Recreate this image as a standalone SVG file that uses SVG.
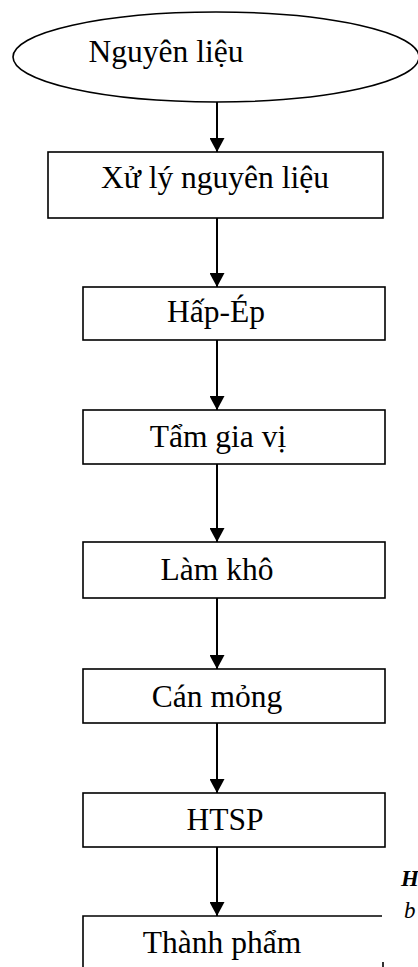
<svg xmlns="http://www.w3.org/2000/svg" width="418" height="967" viewBox="0 0 418 967">
  <defs>
    <marker id="arrow" markerWidth="14" markerHeight="15" refX="14" refY="7.5" orient="auto" markerUnits="userSpaceOnUse" viewBox="0 0 14 15">
      <path d="M0,0 L14,7.5 L0,15 Z" fill="#000"/>
    </marker>
  </defs>
  <style>
    .shape { fill: #fff; stroke: #000; stroke-width: 1.6; }
    .label { font-family: "Liberation Serif", "Times New Roman", serif; font-size: 31.5px; fill: #000; text-anchor: middle; }
    .edge { stroke: #000; stroke-width: 2; fill: none; }
    .cap { font-family: "Liberation Serif", "Times New Roman", serif; font-size: 23px; font-style: italic; fill: #000; }
  </style>
  <rect width="418" height="967" fill="#fff"/>

  <g id="connectors">
    <line class="edge" x1="217" y1="102" x2="217" y2="152" marker-end="url(#arrow)"/>
    <line class="edge" x1="217" y1="218" x2="217" y2="287" marker-end="url(#arrow)"/>
    <line class="edge" x1="217" y1="340" x2="217" y2="410" marker-end="url(#arrow)"/>
    <line class="edge" x1="217" y1="464" x2="217" y2="542" marker-end="url(#arrow)"/>
    <line class="edge" x1="217" y1="598" x2="217" y2="669" marker-end="url(#arrow)"/>
    <line class="edge" x1="217" y1="723" x2="217" y2="793" marker-end="url(#arrow)"/>
    <line class="edge" x1="217" y1="847" x2="217" y2="916" marker-end="url(#arrow)"/>
  </g>

  <g id="n-nguyen-lieu">
    <ellipse class="shape" cx="216" cy="57" rx="203" ry="45"/>
    <text class="label" x="166" y="62">Nguyên liệu</text>
  </g>

  <g id="n-xu-ly">
    <rect class="shape" x="48" y="152" width="335" height="66"/>
    <text class="label" x="215" y="188">Xử lý nguyên liệu</text>
  </g>

  <g id="n-hap-ep">
    <rect class="shape" x="83" y="287" width="302" height="53"/>
    <text class="label" x="216" y="322">Hấp-Ép</text>
  </g>

  <g id="n-tam-gia-vi">
    <rect class="shape" x="83" y="410" width="302" height="54"/>
    <text class="label" x="218" y="447">Tẩm gia vị</text>
  </g>

  <g id="n-lam-kho">
    <rect class="shape" x="83" y="542" width="302" height="56"/>
    <text class="label" x="217" y="580">Làm khô</text>
  </g>

  <g id="n-can-mong">
    <rect class="shape" x="83" y="669" width="302" height="54"/>
    <text class="label" x="217" y="707">Cán mỏng</text>
  </g>

  <g id="n-htsp">
    <rect class="shape" x="83" y="793" width="302" height="54"/>
    <text class="label" x="225" y="830">HTSP</text>
  </g>

  <g id="n-thanh-pham">
    <path d="M83,967 L83,916 L382,916 M383,962 L383,967" stroke="#000" stroke-width="1.6" fill="none"/>
    <text class="label" x="222" y="953">Thành phẩm</text>
  </g>

  <g id="caption">
    <text class="cap" x="401" y="886" font-weight="bold">H</text>
    <text class="cap" x="404" y="918">b</text>
  </g>
</svg>
